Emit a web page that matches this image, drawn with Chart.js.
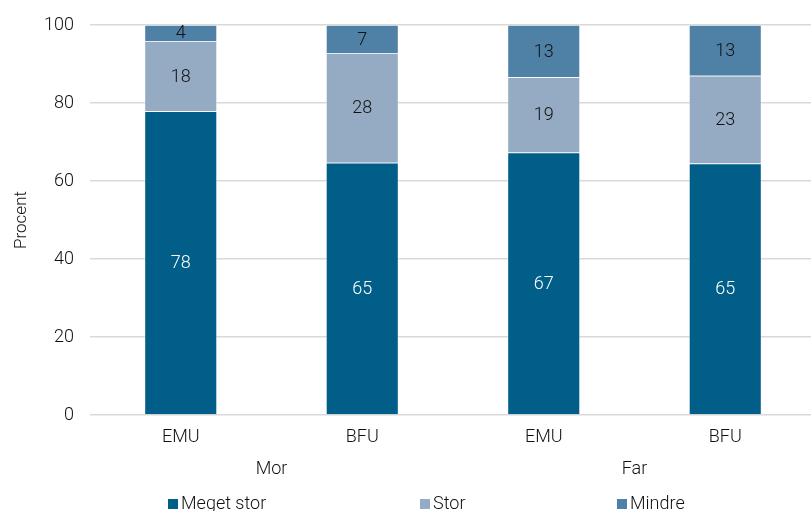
<!DOCTYPE html>
<html>
<head>
<meta charset="utf-8">
<script src="https://cdn.jsdelivr.net/npm/chart.js@4/dist/chart.umd.min.js"></script>
<style>
html,body{margin:0;padding:0;background:#fff;overflow:hidden;width:811px;height:511px;}
#wrap{position:relative;width:816px;height:511px;}
canvas{display:block;}
.leg{position:absolute;top:492px;font-family:Roboto,sans-serif;font-weight:300;font-size:18px;color:#111;white-space:nowrap;line-height:22px;}
.leg span{display:inline-block;width:10px;height:10px;margin-right:3px;vertical-align:0px;}
</style>
</head>
<body>
<div id="wrap">
<canvas id="c" width="816" height="511" style="width:816px;height:511px"></canvas>
<div class="leg" style="left:168px"><span style="background:#005E88"></span>Meget stor</div>
<div class="leg" style="left:420px"><span style="background:#94ABC3"></span>Stor</div>
<div class="leg" style="left:617px"><span style="background:#4F80A5"></span>Mindre</div>
</div>
<script>
const categories = ['EMU', 'BFU', 'EMU', 'BFU'];
const groups = ['Mor', 'Far'];
const megetStor = [77.9, 64.7, 67.3, 64.5];
const stor = [18.0, 28.1, 19.3, 22.5];
const mindre = [4.1, 7.2, 13.4, 13.0];
const yTicks = [0, 20, 40, 60, 80, 100];

const FONT = 'Roboto, sans-serif';
const TXT = '#111';
const W = 300;

const labelPlugin = {
  id: 'segLabels',
  afterDatasetsDraw(chart) {
    const ctx = chart.ctx;
    ctx.save();
    ctx.font = W + ' 18px ' + FONT;
    ctx.textAlign = 'center';
    ctx.textBaseline = 'middle';
    chart.data.datasets.forEach((ds, i) => {
      const meta = chart.getDatasetMeta(i);
      meta.data.forEach((bar, j) => {
        const top = Math.max(bar.y, chart.chartArea.top);
        const bottom = bar.base;
        ctx.fillStyle = ds.labelColor;
        ctx.fillText(String(Math.round(ds.data[j])), bar.x, (top + bottom) / 2 + 1);
      });
    });
    ctx.restore();
  }
};

new Chart(document.getElementById('c'), {
  type: 'bar',
  data: {
    labels: categories,
    datasets: [
      { label: 'Meget stor', data: megetStor, backgroundColor: '#005E88', borderColor: 'rgba(255,255,255,0.6)', borderWidth: 0.75, labelColor: '#ffffff' },
      { label: 'Stor', data: stor, backgroundColor: '#94ABC3', borderColor: 'rgba(255,255,255,0.6)', borderWidth: 0.75, labelColor: TXT },
      { label: 'Mindre', data: mindre, backgroundColor: '#4F80A5', borderColor: 'rgba(255,255,255,0.6)', borderWidth: 0.75, labelColor: TXT }
    ]
  },
  options: {
    responsive: false,
    animation: false,
    events: [],
    layout: { padding: { top: 25, left: 0, right: 0, bottom: 26 } },
    datasets: { bar: { barPercentage: 0.4, categoryPercentage: 1 } },
    plugins: { legend: { display: false }, tooltip: { enabled: false } },
    scales: {
      x: {
        stacked: true,
        grid: { display: false, drawTicks: false },
        border: { display: false },
        ticks: { color: TXT, font: { family: FONT, size: 18, weight: W }, padding: 12, maxRotation: 0 },
        afterFit(s) { s.height = 40; s.paddingLeft = 0; s.paddingRight = 0; }
      },
      x2: {
        type: 'category',
        labels: groups,
        position: 'bottom',
        offset: true,
        grid: { display: false, drawTicks: false },
        border: { display: false },
        ticks: { color: TXT, font: { family: FONT, size: 18, weight: W }, padding: 4, maxRotation: 0 },
        afterFit(s) { s.height = 30; s.paddingLeft = 0; s.paddingRight = 0; }
      },
      y: {
        stacked: true,
        min: 0, max: 100,
        afterBuildTicks(s) { s.ticks = yTicks.map(v => ({ value: v })); },
        grid: { color: '#d9d9d9', lineWidth: 1.5, drawTicks: false },
        border: { display: false },
        ticks: { color: TXT, font: { family: FONT, size: 18, weight: W }, padding: 16 },
        title: { display: true, text: 'Procent', color: TXT, font: { family: FONT, size: 17, weight: W }, padding: { top: 12, bottom: 4 } },
        afterFit(s) { s.width = 90; s.paddingTop = 0; s.paddingBottom = 0; }
      }
    }
  },
  plugins: [labelPlugin]
});
</script>
</body>
</html>
